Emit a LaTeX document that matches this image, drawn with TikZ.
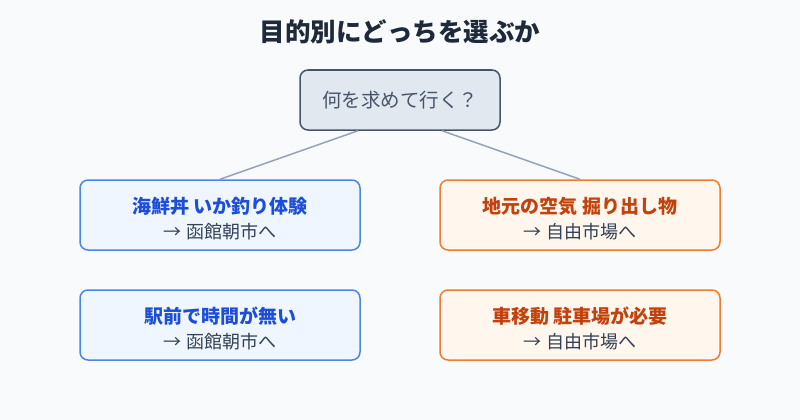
\documentclass[tikz,border=0pt]{standalone}
\usepackage{fontspec}
\setmainfont{Noto Sans CJK JP}
\definecolor{bg}{HTML}{F8FAFC}
\definecolor{titlec}{HTML}{1E293B}
\definecolor{qfill}{HTML}{E2E8F0}
\definecolor{qdraw}{HTML}{475569}
\definecolor{linec}{HTML}{94A3B8}
\definecolor{bfill}{HTML}{EFF6FF}
\definecolor{bdraw}{HTML}{4A86E8}
\definecolor{btext}{HTML}{1D4ED8}
\definecolor{ofill}{HTML}{FFF7ED}
\definecolor{odraw}{HTML}{EF7D2E}
\definecolor{otext}{HTML}{C2410C}
\definecolor{subc}{HTML}{334155}
\begin{document}
\begin{tikzpicture}[x=1pt,y=-1pt,
  box/.style={rounded corners=8pt,line width=1.5pt,minimum width=280pt,minimum height=70pt,align=center,font=\fontsize{18}{25}\selectfont},
  blue/.style={box,fill=bfill,draw=bdraw},
  orange/.style={box,fill=ofill,draw=odraw},
  conn/.style={draw=linec,line width=1.5pt}]
\fill[bg] (0,0) rectangle (800,420);
\node[font=\fontsize{25.5}{28}\selectfont\bfseries,text=titlec] (t) at (400,32) {目的別にどっちを選ぶか};
\node[rounded corners=8pt,fill=qfill,draw=qdraw,line width=1.5pt,minimum width=200pt,minimum height=60pt,text=qdraw,font=\fontsize{19.5}{20}\selectfont] (q) at (400,100) {何を求めて行く？};
\newcommand\hd[2]{\rule{0pt}{23pt}{\fontsize{19}{25}\selectfont\bfseries\color{#1}#2}}
\node[blue] (a) at (220,215) {\hd{btext}{海鮮丼 いか釣り体験}\\\color{subc}→ 函館朝市へ};
\node[orange] (b) at (580,215) {\hd{otext}{地元の空気 掘り出し物}\\\color{subc}→ 自由市場へ};
\node[blue] (c) at (220,325) {\hd{btext}{駅前で時間が無い}\\\color{subc}→ 函館朝市へ};
\node[orange] (d) at (580,325) {\hd{otext}{車移動 駐車場が必要}\\\color{subc}→ 自由市場へ};
\draw[conn] ([xshift=-42pt]q.south) -- (a.north);
\draw[conn] ([xshift=42pt]q.south) -- (b.north);
\end{tikzpicture}
\end{document}
